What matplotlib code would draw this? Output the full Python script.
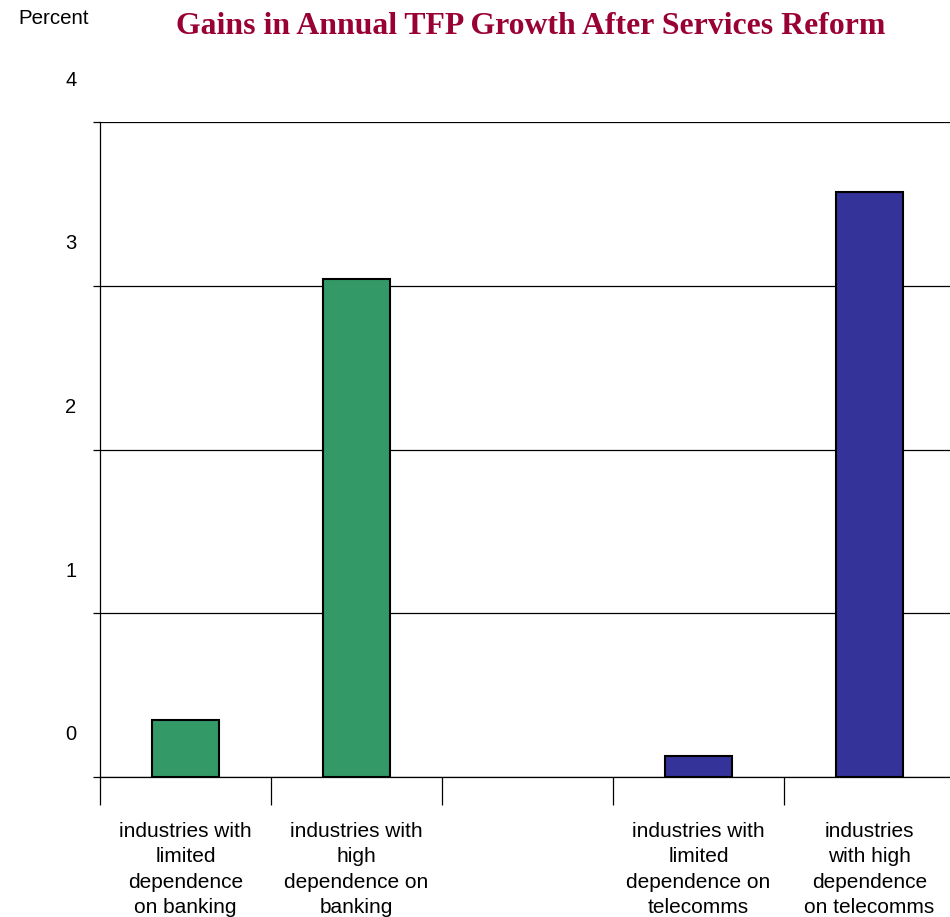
import matplotlib.pyplot as plt
import matplotlib.transforms as mtransforms

categories = [
    "industries with\nlimited\ndependence\non banking",
    "industries with\nhigh\ndependence on\nbanking",
    "",
    "industries with\nlimited\ndependence on\ntelecomms",
    "industries\nwith high\ndependence\non telecomms",
]
gains = [0.35, 3.04, None, 0.13, 3.57]
colors = ["#339966", "#339966", None, "#333399", "#333399"]
yticks = [0, 1, 2, 3, 4]

plt.rcParams["font.family"] = ["Liberation Sans", "DejaVu Sans"]

fig = plt.figure(figsize=(9.5, 9.17), dpi=100)
W, H = 950, 917
ax = fig.add_axes([100 / W, 1 - 777 / H, 855 / W, (777 - 122) / H])

for i, (v, c) in enumerate(zip(gains, colors)):
    if v is None:
        continue
    ax.bar(i, v, width=0.39, color=c, edgecolor="black", linewidth=1.5, zorder=3)

ax.set_xlim(-0.5, 4.5)
ax.set_ylim(0, 4)

# gridlines at each whole percent
for y in yticks:
    ax.axhline(y, color="black", linewidth=0.9, zorder=1)

ax.set_yticks(yticks)
ax.set_yticklabels([str(t) for t in yticks])
ax.tick_params(axis="y", direction="out", length=5, width=0.9, labelsize=14.5, pad=12)
# tick numbers sit above their lines
offset = mtransforms.ScaledTranslation(0, 0.44, fig.dpi_scale_trans)
for lab in ax.get_yticklabels():
    lab.set_transform(lab.get_transform() + offset)

ax.set_xticks([-0.5, 0.5, 1.5, 2.5, 3.5, 4.5])
ax.set_xticklabels([])
ax.tick_params(axis="x", direction="out", length=20, width=0.9)

for i, lab in enumerate(categories):
    ax.annotate(lab, xy=(i, 0), xycoords="data", xytext=(0, -32.5),
                textcoords="offset points", ha="center", va="top",
                fontsize=15, linespacing=1.42, annotation_clip=False)

for s in ["top", "right"]:
    ax.spines[s].set_visible(False)
ax.spines["left"].set_linewidth(0.9)
ax.spines["bottom"].set_linewidth(0.9)

fig.text(18 / W, 1 - 18 / H, "Percent", ha="left", va="center", fontsize=14.8)
fig.text(531 / W, 1 - 26 / H, "Gains in Annual TFP Growth After Services Reform",
         ha="center", va="center", fontsize=22.9, fontweight="bold",
         family=["Liberation Serif", "DejaVu Serif"], color="#990033")

fig.savefig("out.png", dpi=100)
